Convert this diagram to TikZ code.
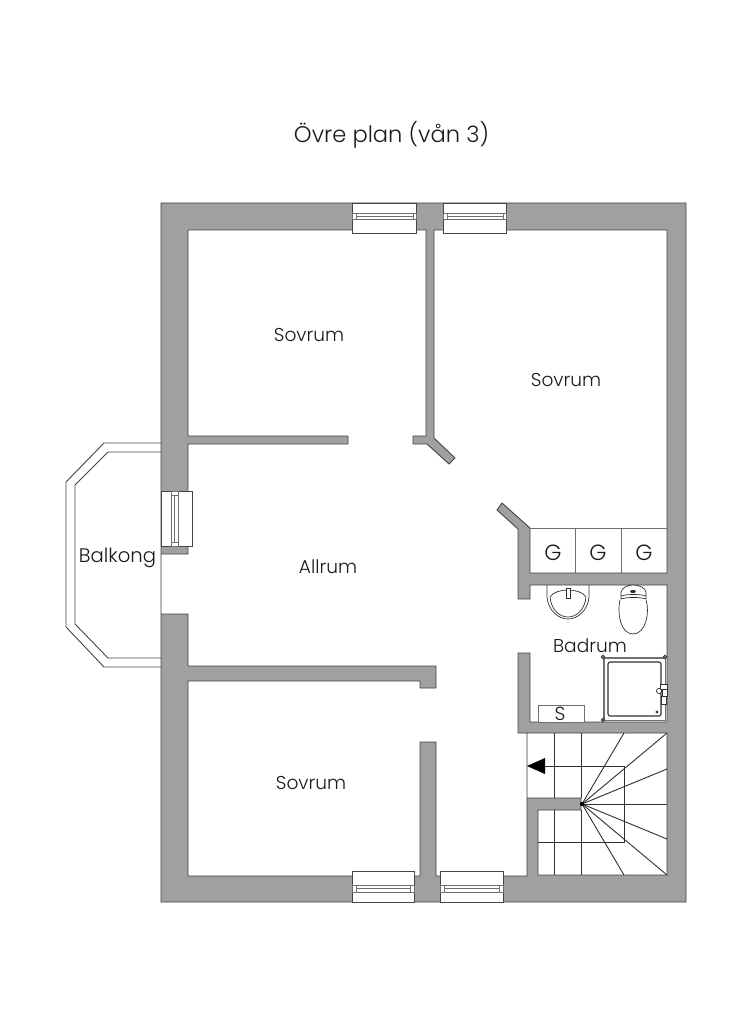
\documentclass[tikz,border=0pt]{standalone}
\usepackage{fontspec}
\setmainfont{Poppins Light}
\tikzset{
  wallshape/.style={fill=wallgray,draw=walledge,line width=0.9pt,even odd rule,line join=miter},
  winframe/.style={fill=white,draw=walledge,line width=0.9pt},
  glass/.style={fill=white,draw=thingray,line width=0.6pt},
  thinline/.style={draw=thingray,line width=0.8pt},
  balconyline/.style={draw=walledge,line width=0.9pt},
  fixture/.style={draw=fixink,line width=0.7pt},
  stairline/.style={draw=stairink,line width=0.9pt},
  roomlabel/.style={font=\fontsize{18.6}{22}\selectfont,text=labelink,inner sep=0pt},
  closetlabel/.style={font=\fontsize{22}{24}\selectfont,text=labelink,inner sep=0pt},
}
\definecolor{wallgray}{HTML}{A0A0A0}
\definecolor{walledge}{HTML}{454545}
\definecolor{thingray}{HTML}{707070}
\definecolor{fixink}{HTML}{303030}
\definecolor{stairink}{HTML}{303030}
\definecolor{labelink}{HTML}{1A1A1A}
\begin{document}
\begin{tikzpicture}[x=1pt,y=-1pt]
\useasboundingbox (0,0) rectangle (752,1024);
% balcony
\draw[balconyline,fill=white] (161,443) -- (104,443) -- (66,482) -- (66,627) -- (104,667) -- (161,667);
\draw[balconyline] (161,452) -- (108,452) -- (75,485) -- (75,624) -- (108,658) -- (161,658);
% walls
\path[wallshape]
  (161,203) -- (686,203) -- (686,902) -- (161,902) -- cycle
  (188,230) -- (426,230) -- (426,436) -- (413,436) -- (413,444) -- (427,444) -- (449,464) -- (455,458) -- (434,438) -- (434,230)
  -- (667,230) -- (667,573) -- (530,573) -- (530,528) -- (502,503) -- (497,510) -- (518,529) -- (518,599) -- (530,599) -- (530,585)
  -- (667,585) -- (667,722) -- (530,722) -- (530,653) -- (518,653) -- (518,733) -- (527,733) -- (527,876)
  -- (436,876) -- (436,742) -- (420,742) -- (420,876) -- (188,876) -- (188,681) -- (420,681) -- (420,688) -- (436,688) -- (436,666)
  -- (188,666) -- (188,614) -- (161,614) -- (161,554) -- (188,554) -- (188,444) -- (348,444) -- (348,436) -- (188,436) -- cycle
  (527,733) -- (667,733) -- (667,875) -- (538,875) -- (538,810) -- (581,810) -- (581,798) -- (527,798) -- cycle;
% windows top
\foreach \l/\r in {352/416,443/506}{
  \draw[winframe] (\l,203) rectangle (\r,233);
  \draw[glass] (\l,213) rectangle (\r,219);
  \draw[glass] (\l+4,213) rectangle (\r-3,219);
  \draw[glass] (\l+4,216) -- (\r-3,216);
}
% windows bottom
\foreach \l/\r in {352/414,440/503}{
  \draw[winframe] (\l,871) rectangle (\r,902);
  \draw[glass] (\l,885) rectangle (\r,892);
  \draw[glass] (\l+4,885) rectangle (\r-4,892);
  \draw[glass] (\l+4,888.5) -- (\r-4,888.5);
}
% window left
\draw[winframe] (161,491) rectangle (192,546);
\draw[glass] (171,491) rectangle (178,546);
\draw[glass] (171,495) rectangle (178,542);
\draw[glass] (174.5,495) -- (174.5,542);
% closets
\draw[thinline] (530,528) -- (667,528);
\draw[thinline] (575.5,528) -- (575.5,573);
\draw[thinline] (621,528) -- (621,573);
\node[closetlabel] (g1) at (553,553) {G};
\node[closetlabel] (g2) at (598,553) {G};
\node[closetlabel] (g3) at (644,553) {G};
% sink
\draw[fixture] (547,585) -- (547,597) .. controls (548,610) and (558,619) .. (568,619) .. controls (578,619) and (588,610) .. (589,597) -- (589,585);
\draw[fixture] (550,597) .. controls (551,609) and (559,617) .. (568,617) .. controls (577,617) and (585,609) .. (586,597) .. controls (583,592) and (575,590) .. (568,590) .. controls (561,590) and (553,592) .. (550,597);
\draw[fixture,fill=white] (566,588) rectangle (570,598);
% toilet
\draw[fixture] (620,600) .. controls (617,612) and (620,634) .. (633,634) .. controls (646,634) and (650,612) .. (646,600);
\draw[fixture,fill=white] (621,599) -- (621,592) .. controls (622,588) and (627,585) .. (633,585) .. controls (640,585) and (645,588) .. (646,592) -- (646,599) .. controls (640,597) and (627,597) .. (621,599) -- cycle;
\draw[fixture] (621,596) .. controls (627,594) and (640,594) .. (646,596);
\draw[fixture,fill=fixink] (633,591.5) ellipse (2.4 and 1.2);
% shower
\draw[thinline,fill=white] (603,657) rectangle (665,720);
\draw[thinline] (604.5,657) -- (604.5,720);
\draw[thinline] (603,658.5) -- (665,658.5);
\draw[draw=fixink,line width=1.1pt,rounded corners=2pt] (608,662) rectangle (661,716);
\foreach \cx/\cy in {603/657,665/657,603/720}{
  \draw[fixture,fill=white,line width=1.1pt] (\cx,\cy) circle (1.6);
}
\draw[fixture] (657,712) circle (1.2);
\draw[fixture,fill=white] (660,684) rectangle (667,689);
\draw[fixture,fill=white] (659,691) circle (2.6);
\draw[fixture,fill=white] (662,689) rectangle (667,696);
\draw[fixture,fill=white] (661,696) rectangle (666,704);
% S cupboard
\draw[thinline,fill=white] (538,705) rectangle (584,722);
\node[closetlabel,font=\fontsize{19}{20}\selectfont] (s) at (560,714) {S};
% stairs
\draw[stairline] (554,733) -- (554,798) (554,810) -- (554,875);
\draw[stairline] (581,733) -- (581,798) (581,810) -- (581,875);
\draw[stairline] (540,766) -- (624,766) -- (624,842) -- (538,842);
\coordinate (hub) at (582,804);
\foreach \e in {(624,733),(667,733),(667,769),(667,804),(667,839),(667,875),(624,875)}{
  \draw[stairline] (hub) -- \e;
}
\fill[black] (hub) circle (2.2);
\fill[black] (527,766) -- (545,758) -- (545,774) -- cycle;
% labels
\node[font=\fontsize{22.6}{28}\selectfont,text=labelink,inner sep=0pt] (title) at (391.5,134.5) {Övre plan (vån 3)};
\node[roomlabel] (r1) at (309,335) {Sovrum};
\node[roomlabel] (r2) at (566,380) {Sovrum};
\node[roomlabel] (r3) at (311,783) {Sovrum};
\node[roomlabel] (r4) at (328,567) {Allrum};
\node[roomlabel,font=\fontsize{19.6}{22}\selectfont] (r5) at (117.5,558) {Balkong};
\node[roomlabel] (r6) at (590,646) {Badrum};
\end{tikzpicture}
\end{document}
